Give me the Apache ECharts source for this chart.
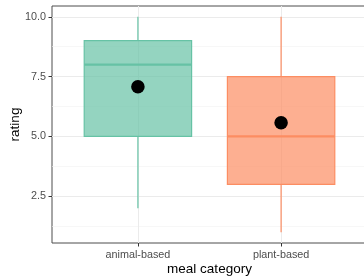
<!DOCTYPE html>
<html lang="en">
<head>
    <meta charset="UTF-8">
    <title>rating by meal category</title>
    <script src="https://cdn.jsdelivr.net/npm/echarts@6/dist/echarts.min.js"></script>
    <style>
        html, body { margin: 0; padding: 0; background: #fff; }
        #main { width: 364px; height: 278px; }
    </style>
</head>
<body>
<div id="main"></div>
<script type="text/javascript">
    // data
    var categories = ['animal-based', 'plant-based'];
    var positions = [1, 2];
    var whiskerLow = [2, 1];
    var q1 = [5, 3];
    var medians = [8, 5];
    var q3 = [9, 7.5];
    var whiskerHigh = [10, 10];
    var means = [7.08, 5.57];
    var colors = ['#66c2a5', '#fc8d62'];
    var fills = ['rgba(102,194,165,0.7)', 'rgba(252,141,98,0.7)'];
    var yTicks = [2.5, 5, 7.5, 10];
    var yMinor = [1.25, 3.75, 6.25, 8.75];

    var boxData = [];
    var meanData = [];
    for (var i = 0; i < categories.length; i++) {
        boxData.push([positions[i], whiskerLow[i], q1[i], medians[i], q3[i], whiskerHigh[i], i]);
        meanData.push([positions[i], means[i]]);
    }

    var gridLines = [];
    yMinor.forEach(function (v) {
        gridLines.push({yAxis: v, lineStyle: {color: '#f2f2f2', width: 0.6, type: 'solid'}});
    });
    yTicks.forEach(function (v) {
        gridLines.push({yAxis: v, lineStyle: {color: '#ebebeb', width: 1, type: 'solid'}});
    });
    positions.forEach(function (v) {
        gridLines.push({xAxis: v, lineStyle: {color: '#ebebeb', width: 1, type: 'solid'}});
    });

    function renderBox(params, api) {
        var x = api.value(0);
        var idx = api.value(6);
        var half = 0.375;
        var col = colors[idx];
        var lo = api.coord([x, api.value(1)]);
        var b1 = api.coord([x, api.value(2)]);
        var md = api.coord([x, api.value(3)]);
        var b3 = api.coord([x, api.value(4)]);
        var hi = api.coord([x, api.value(5)]);
        var left = api.coord([x - half, api.value(4)]);
        var right = api.coord([x + half, api.value(2)]);
        return {
            type: 'group',
            children: [
                {type: 'line', shape: {x1: hi[0], y1: hi[1], x2: b3[0], y2: b3[1]},
                    style: {stroke: col, lineWidth: 1.2}},
                {type: 'line', shape: {x1: b1[0], y1: b1[1], x2: lo[0], y2: lo[1]},
                    style: {stroke: col, lineWidth: 1.2}},
                {type: 'rect', shape: {x: left[0], y: left[1], width: right[0] - left[0], height: right[1] - left[1]},
                    style: {fill: fills[idx], stroke: col, lineWidth: 1.2}},
                {type: 'line', shape: {x1: left[0], y1: md[1], x2: right[0], y2: md[1]},
                    style: {stroke: col, lineWidth: 2.2}}
            ]
        };
    }

    var myChart = echarts.init(document.getElementById('main'));
    myChart.setOption({
        animation: false,
        textStyle: {fontFamily: 'Liberation Sans'},
        grid: {
            left: 52, top: 6, width: 315, height: 237,
            outerBoundsMode: 'none', containLabel: false,
            show: true, borderColor: '#4d4d4d', borderWidth: 1, backgroundColor: '#fff'
        },
        xAxis: {
            type: 'value', min: 0.4, max: 2.6,
            axisLine: {show: false},
            splitLine: {show: false},
            axisTick: {show: true, length: 3.5, customValues: positions, lineStyle: {color: '#333'}},
            axisLabel: {
                customValues: positions, margin: 7, fontSize: 10.8, color: '#4d4d4d',
                formatter: function (v) { return categories[positions.indexOf(v)]; }
            },
            name: 'meal category', nameLocation: 'middle', nameGap: 19, nameMoveOverlap: false,
            nameTextStyle: {fontSize: 13.5, color: '#000'}
        },
        yAxis: {
            type: 'value', min: 0.55, max: 10.45,
            axisLine: {show: false},
            splitLine: {show: false},
            axisTick: {show: true, length: 3.5, customValues: yTicks, lineStyle: {color: '#333'}},
            axisLabel: {
                customValues: yTicks, margin: 6, fontSize: 10.8, color: '#4d4d4d',
                formatter: function (v) { return v.toFixed(1); }
            },
            name: 'rating', nameLocation: 'middle', nameGap: 30, nameMoveOverlap: false,
            nameTextStyle: {fontSize: 13.5, color: '#000'}
        },
        series: [
            {
                type: 'line', data: [], z: 0, silent: true,
                markLine: {silent: true, z: 0, symbol: 'none', label: {show: false}, data: gridLines}
            },
            {
                type: 'custom', renderItem: renderBox, data: boxData, z: 2, silent: true,
                encode: {x: 0, y: [1, 2, 3, 4, 5]}
            },
            {
                type: 'scatter', data: meanData, z: 3, symbol: 'circle', symbolSize: 13.5,
                itemStyle: {color: '#000', opacity: 1}, silent: true
            }
        ]
    });
</script>
</body>
</html>
